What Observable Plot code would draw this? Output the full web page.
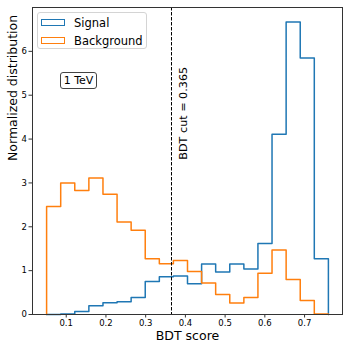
<!DOCTYPE html>
<html><head><meta charset="utf-8">
<script src="https://cdn.jsdelivr.net/npm/d3@7"></script>
<script src="https://cdn.jsdelivr.net/npm/@observablehq/plot@0.6"></script>
<style>
body{margin:0;background:#fff;font-family:"DejaVu Sans",sans-serif;}
#wrap{position:relative;width:349px;height:349px;}
#wrap svg{position:absolute;left:0;top:0;}
.legend{position:absolute;left:37px;top:12px;width:110px;height:37px;border:1px solid #d4d4d4;border-radius:3px;background:rgba(255,255,255,0.8);box-sizing:border-box;}
.item{position:absolute;left:3px;height:12px;font-size:11.5px;line-height:12px;white-space:nowrap;}
.sw{position:absolute;left:0;top:2px;width:24px;height:7px;box-sizing:border-box;border:1.5px solid;}
.lbl{position:absolute;left:33px;top:0;}
.tag{position:absolute;left:60px;top:72px;width:37px;height:17px;border:1px solid #444;border-radius:3px;box-sizing:border-box;font-size:11px;line-height:15px;text-align:center;background:#fff;}
</style></head>
<body><div id="wrap"></div>
<script>
const binEdges = [0.0506,0.0861,0.1215,0.1570,0.1925,0.2280,0.2634,0.2989,0.3344,0.3698,0.4053,0.4408,0.4762,0.5117,0.5472,0.5826,0.6181,0.6536,0.6891,0.7245,0.7600];
const signalValues = [0.0,0.01,0.07,0.20,0.27,0.29,0.39,0.75,0.86,0.88,0.70,1.15,0.97,1.15,1.04,1.62,4.11,6.67,5.85,1.27];
const backgroundValues = [2.46,3.00,2.83,3.11,2.74,2.11,1.92,1.27,1.16,1.23,0.98,0.72,0.455,0.265,0.39,0.94,1.47,0.80,0.32,0.01];
const cutValue = 0.365;
const cutLabel = "BDT cut = 0.365";
const xTicks = [0.1,0.2,0.3,0.4,0.5,0.6,0.7];
const yTicks = [0,1,2,3,4,5,6];
const seriesNames = ["Signal","Background"];
const seriesColors = ["#1f77b4","#ff7f0e"];
const energyLabel = "1 TeV";

function stepPoints(values){
  const pts=[{x:binEdges[0],y:0}];
  values.forEach((v,i)=>pts.push({x:binEdges[i],y:v}));
  pts.push({x:binEdges[values.length],y:values[values.length-1]});
  pts.push({x:binEdges[values.length],y:0});
  return pts;
}

const plot = Plot.plot({
  width:349, height:349, marginLeft:32, marginRight:7, marginTop:7, marginBottom:35,
  style:{fontFamily:"DejaVu Sans", fontSize:"8.5px", color:"#000", background:"transparent"},
  x:{domain:[0.0151,0.7955]},
  y:{domain:[0,7.0]},
  marks:[
    Plot.line(stepPoints(signalValues),{x:"x",y:"y",curve:"step-after",stroke:seriesColors[0],strokeWidth:1.5}),
    Plot.line(stepPoints(backgroundValues),{x:"x",y:"y",curve:"step-after",stroke:seriesColors[1],strokeWidth:1.5}),
    Plot.ruleX([cutValue],{stroke:"#000",strokeWidth:1,strokeDasharray:"3.5,1.5"}),
    Plot.text([cutLabel],{x:cutValue,y:3.53,dx:12,rotate:-90,textAnchor:"start",lineAnchor:"middle",fontSize:11.2,text:d=>d}),
    Plot.axisX(xTicks,{tickSize:3.5,tickPadding:2,label:null,tickFormat:d=>d.toFixed(1),stroke:"#333"}),
    Plot.axisY(yTicks,{tickSize:3.5,tickPadding:2,label:null,stroke:"#333"}),
    Plot.frame({stroke:"#333"}),
    Plot.text(["BDT score"],{frameAnchor:"bottom",dy:21,lineAnchor:"middle",fontSize:12.5,text:d=>d}),
    Plot.text(["Normalized distribution"],{frameAnchor:"left",dx:-20,rotate:-90,lineAnchor:"middle",fontSize:12.5,text:d=>d})
  ]
});
const wrap=document.getElementById("wrap");
wrap.appendChild(plot);
const lg=document.createElement("div"); lg.className="legend";
seriesNames.forEach((n,i)=>{
  const it=document.createElement("div"); it.className="item"; it.style.top=(4+i*17.5)+"px";
  const sw=document.createElement("div"); sw.className="sw"; sw.style.borderColor=seriesColors[i];
  const lb=document.createElement("div"); lb.className="lbl"; lb.textContent=n;
  it.appendChild(sw); it.appendChild(lb); lg.appendChild(it);
});
wrap.appendChild(lg);
const tag=document.createElement("div"); tag.className="tag"; tag.textContent=energyLabel;
wrap.appendChild(tag);
</script>
</body></html>
